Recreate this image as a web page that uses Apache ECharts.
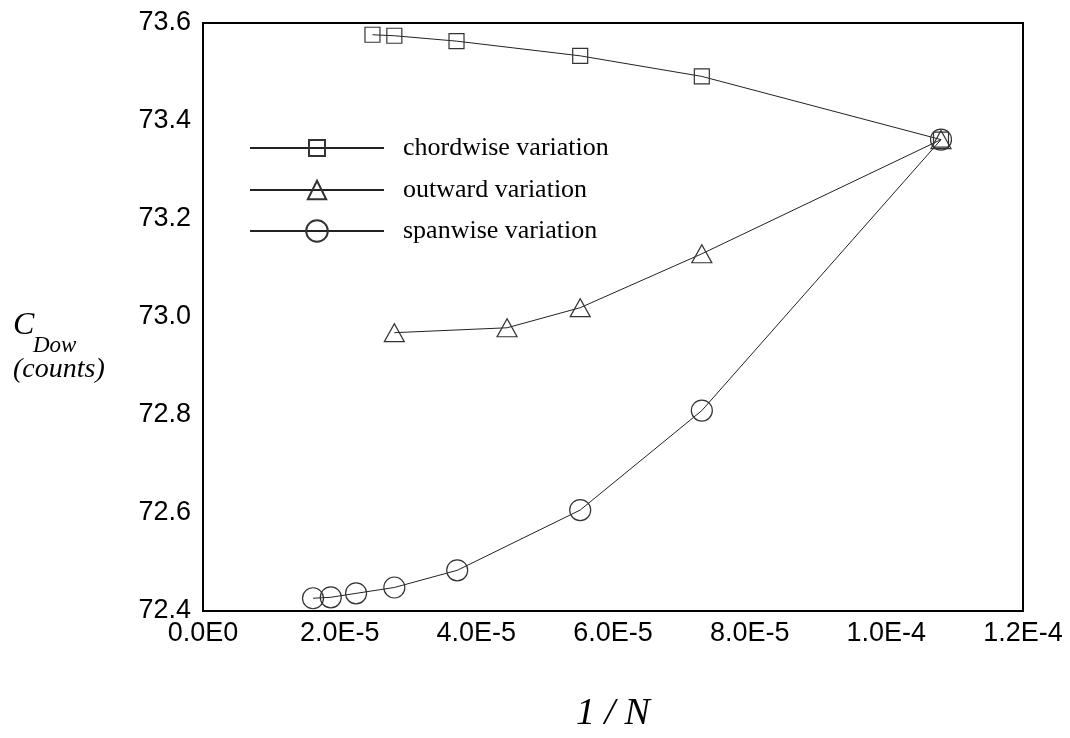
<!DOCTYPE html>
<html>
<head>
<meta charset="utf-8">
<script src="https://cdn.jsdelivr.net/npm/echarts@6/dist/echarts.min.js"></script>
<style>html,body{margin:0;padding:0;background:#fff}#c{width:1070px;height:738px}</style>
</head>
<body>
<div id="c"></div>
<script>
// ---- data ----
const seriesNames = ['chordwise variation', 'outward variation', 'spanwise variation'];
const chordX = [2.48e-5, 2.80e-5, 3.71e-5, 5.52e-5, 7.30e-5, 1.080e-4];
const chordY = [73.576, 73.574, 73.563, 73.533, 73.491, 73.362];
const outX = [2.80e-5, 4.45e-5, 5.52e-5, 7.30e-5, 1.080e-4];
const outY = [72.968, 72.978, 73.019, 73.129, 73.362];
const spanX = [1.61e-5, 1.87e-5, 2.24e-5, 2.80e-5, 3.72e-5, 5.52e-5, 7.30e-5, 1.080e-4];
const spanY = [72.426, 72.428, 72.436, 72.448, 72.483, 72.606, 72.809, 73.362];
const xTickLabels = ['0.0E0', '2.0E-5', '4.0E-5', '6.0E-5', '8.0E-5', '1.0E-4', '1.2E-4'];
const yTickLabels = ['72.4', '72.6', '72.8', '73.0', '73.2', '73.4', '73.6'];
const xTitle = '1 / N';

const zip = (xs, ys) => xs.map((x, i) => [x, ys[i]]);
const sans = 'Liberation Sans, Arial, sans-serif';
const serif = 'Liberation Serif, Times New Roman, serif';

const mk = (name, data, symbol, size) => ({
  name, type: 'line', data, symbol, symbolSize: size,
  lineStyle: { color: '#222', width: 1 },
  itemStyle: { color: 'rgba(255,255,255,0)', borderColor: '#333', borderWidth: 1.2 },
  emphasis: { disabled: true }, animation: false, z: 3
});

const legendItem = (name, top, h) => ({
  orient: 'vertical', left: 249, top, padding: 0, itemWidth: 134, itemHeight: h,
  data: [name], selectedMode: false,
  textStyle: { color: '#000', fontFamily: serif, fontSize: 26, padding: [0, 0, 0, 14] }
});

const chart = echarts.init(document.getElementById('c'));
chart.setOption({
  animation: false,
  grid: { left: 203, top: 23, width: 820, height: 610, show: true, borderColor: '#000', borderWidth: 2, backgroundColor: 'transparent' },
  xAxis: {
    type: 'value', min: 0, max: 1.2e-4, interval: 2e-5,
    axisLine: { show: false }, axisTick: { show: false }, splitLine: { show: false },
    axisLabel: { color: '#000', fontFamily: sans, fontSize: 27, margin: 9,
      formatter: v => xTickLabels[Math.round(v / 2e-5)] },
    name: xTitle, nameLocation: 'middle', nameGap: 84,
    nameTextStyle: { color: '#000', fontFamily: serif, fontStyle: 'italic', fontSize: 38 }
  },
  yAxis: {
    type: 'value', min: 72.4, max: 73.6, interval: 0.2,
    axisLine: { show: false }, axisTick: { show: false }, splitLine: { show: false },
    axisLabel: { color: '#000', fontFamily: sans, fontSize: 27, margin: 12,
      formatter: v => yTickLabels[Math.round((v - 72.4) / 0.2)] }
  },
  legend: [
    legendItem(seriesNames[0], 135, 20),
    legendItem(seriesNames[1], 177, 23),
    legendItem(seriesNames[2], 218, 27)
  ],
  graphic: [
    { type: 'text', x: 13, y: 326, style: { text: 'C', font: 'italic 32px ' + serif, fill: '#000', verticalAlign: 'middle' } },
    { type: 'text', x: 33, y: 346, style: { text: 'Dow', font: 'italic 23px ' + serif, fill: '#000', verticalAlign: 'middle' } },
    { type: 'text', x: 13, y: 370, style: { text: '(counts)', font: 'italic 28px ' + serif, fill: '#000', verticalAlign: 'middle' } }
  ],
  series: [
    mk(seriesNames[0], zip(chordX, chordY), 'rect', 15),
    mk(seriesNames[1], zip(outX, outY), 'triangle', [20, 18]),
    mk(seriesNames[2], zip(spanX, spanY), 'circle', 21)
  ]
});
</script>
</body>
</html>
